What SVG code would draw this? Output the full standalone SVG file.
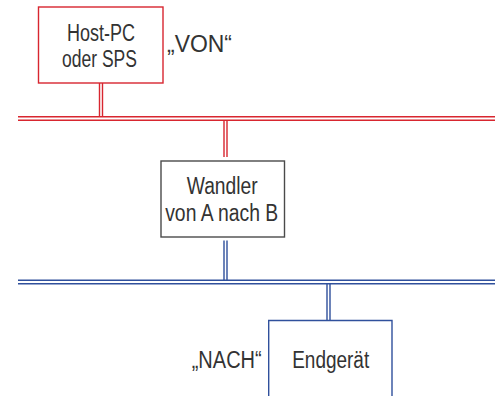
<svg xmlns="http://www.w3.org/2000/svg" width="495" height="396" viewBox="0 0 495 396">
<style>
.t{font-family:"Liberation Sans",Arial,sans-serif;font-size:23.5px;fill:#333;text-anchor:middle}
.r{stroke:#d8262f;stroke-width:1.4;fill:none}
.b{stroke:#30509c;stroke-width:1.4;fill:none}
.g{stroke:#4a4a4a;stroke-width:1.4;fill:#fff}
</style>
<rect width="495" height="396" fill="#fff"/>
<g id="connectors">
<path class="r" d="M18 116.7H495M18 120.3H495"/>
<path class="r" d="M99.5 83V116.7M102.5 83V116.7"/>
<path class="r" d="M224 120.3V157M227 120.3V157"/>
<path class="b" d="M18 280.2H495M18 283.8H495"/>
<path class="b" d="M224 240.5V280.2M227 240.5V280.2"/>
<path class="b" d="M327 283.8V320.5M330 283.8V320.5"/>
</g>
<g id="host">
<rect x="38.5" y="7" width="124.5" height="76" fill="#fff" stroke="#d8262f" stroke-width="1.4"/>
<text class="t" x="101" y="41" textLength="68" lengthAdjust="spacingAndGlyphs">Host-PC</text>
<text class="t" x="99.5" y="67" textLength="75" lengthAdjust="spacingAndGlyphs">oder SPS</text>
</g>
<g id="von">
<text class="t" x="199.5" y="52" textLength="65" lengthAdjust="spacingAndGlyphs">„VON“</text>
</g>
<g id="wandler">
<rect class="g" x="161" y="161" width="123.5" height="76"/>
<text class="t" x="222.2" y="193.5" textLength="71" lengthAdjust="spacingAndGlyphs">Wandler</text>
<text class="t" x="221.7" y="220.5" textLength="113" lengthAdjust="spacingAndGlyphs">von A nach B</text>
</g>
<g id="endgeraet">
<path d="M268.7 397V320.5H392V397" fill="#fff" stroke="#30509c" stroke-width="1.4"/>
<text class="t" x="330.7" y="367.5" textLength="77" lengthAdjust="spacingAndGlyphs">Endgerät</text>
</g>
<g id="nach">
<text class="t" x="226.7" y="368.3" textLength="70" lengthAdjust="spacingAndGlyphs">„NACH“</text>
</g>
</svg>
